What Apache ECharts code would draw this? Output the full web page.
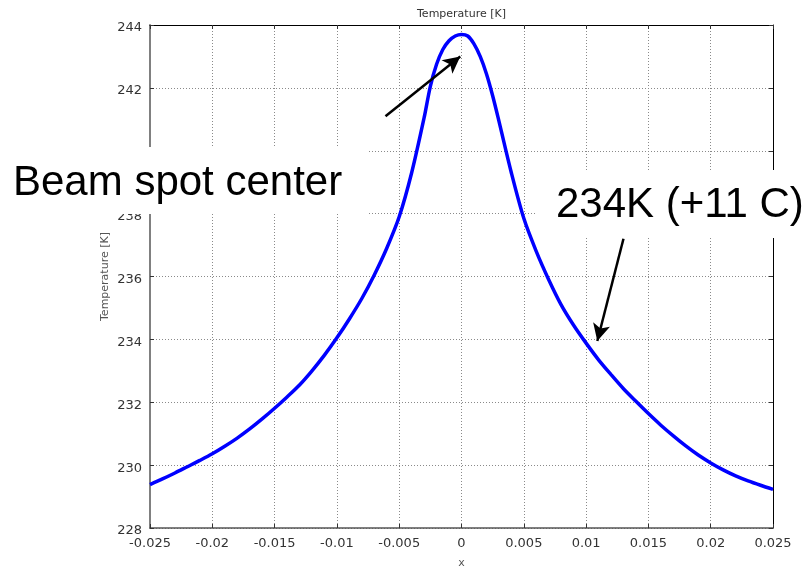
<!DOCTYPE html>
<html>
<head>
<meta charset="utf-8">
<title>Temperature [K]</title>
<script src="https://cdn.jsdelivr.net/npm/echarts@6/dist/echarts.min.js"></script>
<style>
    html, body { margin: 0; padding: 0; background: #fff; }
    #main { width: 811px; height: 567px; }
</style>
</head>
<body>
<div id="main"></div>
<script>
// x positions
var xs = [-0.025, -0.024, -0.023, -0.022, -0.021, -0.020, -0.019, -0.018, -0.017, -0.016,
          -0.015, -0.014, -0.013, -0.012, -0.011, -0.010, -0.009, -0.008, -0.007, -0.006,
          -0.005, -0.004, -0.003, -0.0025, -0.002, -0.0015, -0.001, -0.0005, 0, 0.0005,
          0.001, 0.0015, 0.002, 0.0025, 0.003, 0.004, 0.005, 0.006, 0.007, 0.008,
          0.009, 0.010, 0.011, 0.012, 0.013, 0.014, 0.015, 0.016, 0.017, 0.018,
          0.019, 0.020, 0.021, 0.022, 0.023, 0.024, 0.025];
// temperature [K] at each x
var temps = [229.38, 229.56, 229.75, 229.95, 230.15, 230.36, 230.60, 230.86, 231.15, 231.47,
             231.81, 232.17, 232.55, 233.00, 233.50, 234.05, 234.65, 235.30, 236.05, 236.90,
             237.90, 239.30, 241.05, 242.05, 242.75, 243.22, 243.50, 243.65, 243.70, 243.65,
             243.40, 243.00, 242.45, 241.75, 240.95, 239.30, 237.85, 236.80, 235.90, 235.10,
             234.45, 233.88, 233.35, 232.88, 232.43, 232.03, 231.64, 231.27, 230.93, 230.61,
             230.32, 230.07, 229.85, 229.66, 229.50, 229.36, 229.23];
var xTicks = [-0.025, -0.02, -0.015, -0.01, -0.005, 0, 0.005, 0.01, 0.015, 0.02, 0.025];
var yTicks = [228, 230, 232, 234, 236, 238, 240, 242, 244];
// annotation arrows: [from, to] in data coords
var arrowCenter = [[-0.0061, 241.1], [-0.0001, 243.0]];
var arrowSide = [[0.0130, 237.2], [0.0109, 233.95]];

var points = [];
for (var i = 0; i < xs.length; i++) {
    points.push([xs[i], temps[i]]);
}

var gridLine = { show: true, lineStyle: { color: '#8a8a8a', type: [1, 2], width: 1 } };

var chart = echarts.init(document.getElementById('main'));

var option = {
    animation: false,
    backgroundColor: '#fff',
    grid: { left: 150, right: 38, top: 25, bottom: 39, outerBoundsMode: 'none', containLabel: false },
    xAxis: [
        {
            type: 'value',
            min: xTicks[0],
            max: xTicks[xTicks.length - 1],
            interval: 0.005,
            position: 'bottom',
            name: 'x',
            nameLocation: 'middle',
            nameGap: 30,
            nameMoveOverlap: false,
            nameTextStyle: { fontFamily: 'DejaVu Sans', fontSize: 11, color: '#555' },
            axisLine: { onZero: false, lineStyle: { color: '#555', width: 1.5 } },
            axisTick: { inside: true, length: 4, lineStyle: { color: '#333' } },
            axisLabel: {
                fontFamily: 'DejaVu Sans', fontSize: 13, color: '#333', margin: 9,
                formatter: function (v) { return String(parseFloat(v.toFixed(4))); }
            },
            splitLine: gridLine
        },
        {
            type: 'value',
            min: xTicks[0],
            max: xTicks[xTicks.length - 1],
            interval: 0.005,
            position: 'top',
            name: 'Temperature [K]',
            nameLocation: 'middle',
            nameGap: 5,
            nameMoveOverlap: false,
            nameTextStyle: { fontFamily: 'DejaVu Sans', fontSize: 11, color: '#333' },
            axisLine: { onZero: false, lineStyle: { color: '#000', width: 1 } },
            axisTick: { inside: true, length: 4, lineStyle: { color: '#333' } },
            axisLabel: { show: false },
            splitLine: { show: false }
        }
    ],
    yAxis: [
        {
            type: 'value',
            min: yTicks[0],
            max: yTicks[yTicks.length - 1],
            interval: 2,
            position: 'left',
            name: 'Temperature [K]',
            nameLocation: 'middle',
            nameGap: 39,
            nameMoveOverlap: false,
            nameTextStyle: { fontFamily: 'DejaVu Sans', fontSize: 11, color: '#555' },
            axisLine: { show: true, onZero: false, lineStyle: { color: '#808080', width: 2 } },
            axisTick: { show: true, inside: true, length: 4, lineStyle: { color: '#333' } },
            axisLabel: { fontFamily: 'DejaVu Sans', fontSize: 13, color: '#333', verticalAlign: 'top', lineHeight: 6 },
            splitLine: gridLine
        },
        {
            type: 'value',
            min: yTicks[0],
            max: yTicks[yTicks.length - 1],
            interval: 2,
            position: 'right',
            axisLine: { show: true, onZero: false, lineStyle: { color: '#000', width: 1 } },
            axisTick: { show: true, inside: true, length: 4, lineStyle: { color: '#333' } },
            axisLabel: { show: false },
            splitLine: { show: false }
        }
    ],
    series: [
        {
            type: 'line',
            data: points,
            showSymbol: false,
            smooth: 0.3,
            lineStyle: { color: '#0000ff', width: 3.5 },
            z: 3,
            markLine: {
                silent: true,
                animation: false,
                symbol: ['none', 'arrow'],
                symbolSize: [13, 17],
                label: { show: false },
                lineStyle: { color: '#000', width: 2.5, type: 'solid' },
                data: [
                    [{ coord: arrowCenter[0] }, { coord: arrowCenter[1] }],
                    [{ coord: arrowSide[0] }, { coord: arrowSide[1] }]
                ]
            }
        }
    ],
    graphic: [
        // white callout boxes over the plot
        { type: 'rect', z: 50, shape: { x: 0, y: 147, width: 367, height: 67 }, style: { fill: '#fff' } },
        { type: 'text', z: 51, x: 13, y: 183,
          style: { text: 'Beam spot center', fontFamily: 'Liberation Sans', fontSize: 42, fill: '#000', verticalAlign: 'middle' } },
        { type: 'rect', z: 50, shape: { x: 537, y: 170, width: 274, height: 68 }, style: { fill: '#fff' } },
        { type: 'text', z: 51, x: 556, y: 205,
          style: { text: '234K (+11 C)', fontFamily: 'Liberation Sans', fontSize: 42, fill: '#000', verticalAlign: 'middle' } }
    ]
};

chart.setOption(option);
</script>
</body>
</html>
